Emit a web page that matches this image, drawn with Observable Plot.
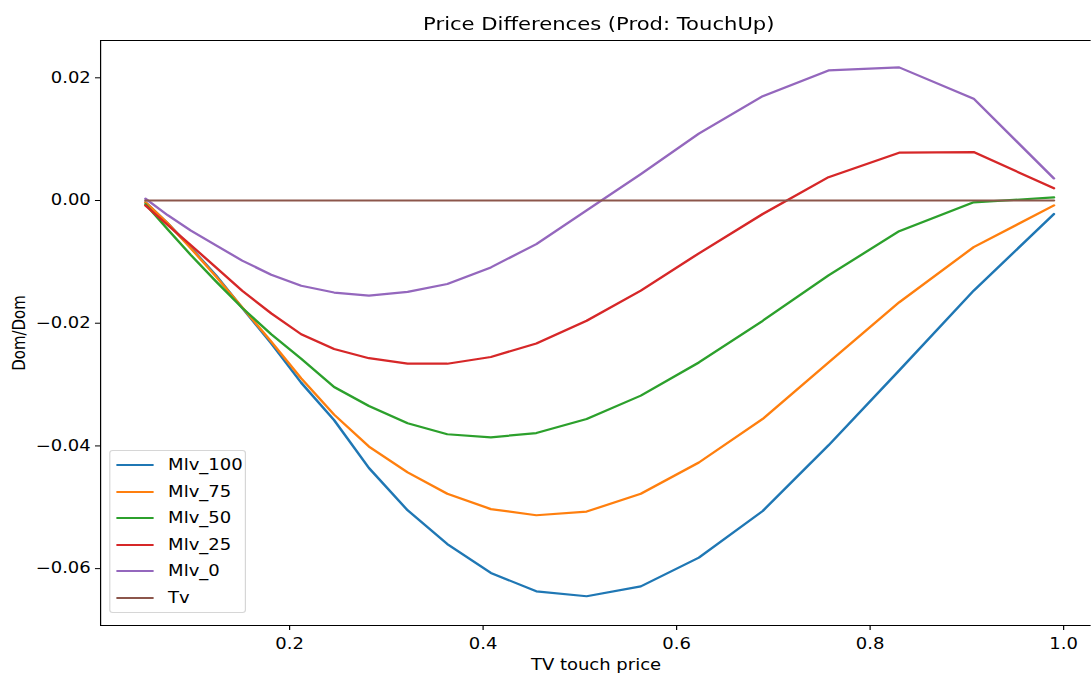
<!DOCTYPE html>
<html>
<head>
<meta charset="utf-8">
<script src="https://cdn.jsdelivr.net/npm/d3@7"></script>
<script src="https://cdn.jsdelivr.net/npm/@observablehq/plot@0.6"></script>
<style>
  html, body { margin: 0; padding: 0; background: #fff; }
  #wrap { position: relative; width: 1091px; height: 677px; overflow: hidden; font-family: "DejaVu Sans", sans-serif; }
  #inner { position: absolute; left: 0; top: 0; width: 909px; height: 677px; transform: scaleX(1.2); transform-origin: 0 0; }
  #title { position: absolute; left: 0; top: 14px; width: 998px; text-align: center; font-size: 17.6px; color: #000; }
  #legend { position: absolute; left: 90.8px; top: 450px; width: 114.2px; height: 163px; box-sizing: border-box;
            border: 1px solid #d6d6d6; border-radius: 3px; background: rgba(255,255,255,0.85); }
  .row { position: absolute; left: 0; height: 18px; font-size: 15px; line-height: 18px; color: #000; }
  .swatch { position: absolute; left: 5px; top: 8px; width: 31.7px; height: 2.2px; }
  .lab { position: absolute; left: 48.3px; top: 0; white-space: nowrap; }
</style>
</head>
<body>
<div id="wrap">
 <div id="inner">
  <div id="chart"></div>
  <div id="title">Price Differences (Prod: TouchUp)</div>
  <div id="legend"></div>
 </div>
</div>
<script>
// ---- data ----
const touchPrice = [0.051, 0.074, 0.098, 0.124, 0.151, 0.181, 0.212, 0.246, 0.282, 0.322, 0.363,
                    0.408, 0.455, 0.507, 0.563, 0.623, 0.689, 0.757, 0.830, 0.907, 0.990];
const mlv100 = [-0.0003, -0.0037, -0.0077, -0.0122, -0.0175, -0.0233, -0.0297, -0.0358, -0.0436, -0.0505, -0.0560,
                -0.0607, -0.0637, -0.0645, -0.0629, -0.0582, -0.0506, -0.0399, -0.0277, -0.0147, -0.0022];
const mlv75  = [-0.0003, -0.0037, -0.0078, -0.0124, -0.0174, -0.0230, -0.0290, -0.0349, -0.0401, -0.0443, -0.0478,
                -0.0503, -0.0513, -0.0507, -0.0478, -0.0427, -0.0356, -0.0264, -0.0166, -0.0076, -0.0008];
const mlv50  = [-0.0006, -0.0047, -0.0089, -0.0132, -0.0175, -0.0218, -0.0258, -0.0304, -0.0335, -0.0363, -0.0381,
                -0.0386, -0.0379, -0.0356, -0.0318, -0.0264, -0.0196, -0.0122, -0.0050, -0.0003, 0.0005];
const mlv25  = [-0.0008, -0.0040, -0.0073, -0.0109, -0.0147, -0.0184, -0.0218, -0.0242, -0.0257, -0.0266, -0.0266,
                -0.0255, -0.0233, -0.0196, -0.0147, -0.0086, -0.0022, 0.0038, 0.0078, 0.0079, 0.0020];
const mlv0   = [0.0003, -0.0024, -0.0049, -0.0073, -0.0098, -0.0121, -0.0139, -0.0150, -0.0155, -0.0149, -0.0136,
                -0.0109, -0.0071, -0.0016, 0.0043, 0.0109, 0.0170, 0.0212, 0.0217, 0.0166, 0.0036];
const tv     = [0, 0, 0, 0, 0, 0, 0, 0, 0, 0, 0, 0, 0, 0, 0, 0, 0, 0, 0, 0, 0];

const seriesNames = ["Mlv_100", "Mlv_75", "Mlv_50", "Mlv_25", "Mlv_0", "Tv"];
const seriesValues = [mlv100, mlv75, mlv50, mlv25, mlv0, tv];
const seriesColors = ["#1f77b4", "#ff7f0e", "#2ca02c", "#d62728", "#9467bd", "#8c564b"];
const xTicks = [0.2, 0.4, 0.6, 0.8, 1.0];
const yTicks = [-0.06, -0.04, -0.02, 0.00, 0.02];

// ---- build long table ----
const rows = [];
seriesNames.forEach((name, i) => {
  touchPrice.forEach((x, j) => rows.push({series: name, x, y: seriesValues[i][j]}));
});

const xDomain = [0.00465, 1.0287];
const yDomain = [-0.06927, 0.02608];

const chart = Plot.plot({
  width: 909,
  height: 677,
  marginLeft: 83.33,
  marginRight: 0,
  marginTop: 40,
  marginBottom: 52,
  style: {fontFamily: "DejaVu Sans, sans-serif", fontSize: "15px", color: "#000", background: "#fff"},
  x: {domain: xDomain, ticks: xTicks, tickFormat: ".1f", tickSize: 5, tickPadding: 8,
      label: "TV touch price", labelAnchor: "center", labelArrow: "none", labelOffset: 44},
  y: {domain: yDomain, ticks: yTicks, tickFormat: ".2f", tickSize: 4.2, tickPadding: 4,
      label: "Dom/Dom", labelAnchor: "center", labelArrow: "none", labelOffset: 73.6},
  color: {domain: seriesNames, range: seriesColors},
  marks: [
    Plot.line(rows, {x: "x", y: "y", z: "series", stroke: "series", strokeWidth: 2.2}),
    Plot.ruleX([xDomain[0]], {stroke: "#000", strokeWidth: 1}),
    Plot.ruleY([yDomain[0], yDomain[1]], {stroke: "#000", strokeWidth: 1})
  ]
});
document.getElementById("chart").appendChild(chart);

// ---- legend ----
const legend = document.getElementById("legend");
seriesNames.forEach((name, i) => {
  const row = document.createElement("div");
  row.className = "row";
  row.style.top = (5 + i * 26.5) + "px";
  row.style.width = "110px";
  const sw = document.createElement("div");
  sw.className = "swatch";
  sw.style.background = seriesColors[i];
  const lab = document.createElement("div");
  lab.className = "lab";
  lab.textContent = name;
  row.appendChild(sw);
  row.appendChild(lab);
  legend.appendChild(row);
});
</script>
</body>
</html>
